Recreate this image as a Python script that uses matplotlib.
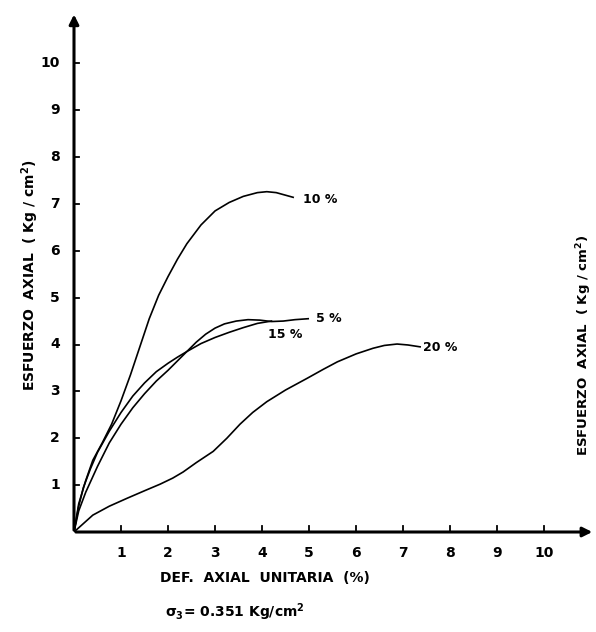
import numpy as np
import matplotlib.pyplot as plt

# curvas esfuerzo-deformacion
x_10 = [0, 0.1, 0.25, 0.4, 0.6, 0.8, 1.0, 1.2, 1.4, 1.6, 1.8, 2.0, 2.2, 2.4, 2.7, 3.0,
        3.3, 3.6, 3.9, 4.1, 4.3, 4.66]
y_10 = [0, 0.6, 1.1, 1.53, 1.9, 2.3, 2.8, 3.35, 3.95, 4.55, 5.05, 5.45, 5.82, 6.15, 6.55, 6.85,
        7.03, 7.16, 7.24, 7.26, 7.24, 7.14]

x_15 = [0, 0.1, 0.2, 0.35, 0.5, 0.75, 1.0, 1.25, 1.5, 1.75, 2.0, 2.2, 2.4, 2.7, 3.0,
        3.3, 3.6, 3.9, 4.2]
y_15 = [0, 0.55, 0.95, 1.35, 1.7, 2.15, 2.55, 2.9, 3.18, 3.42, 3.6, 3.73, 3.85, 4.02, 4.15,
        4.26, 4.36, 4.45, 4.5]

x_5 = [0, 0.1, 0.25, 0.5, 0.75, 1.0, 1.25, 1.5, 1.75, 2.0, 2.2, 2.4, 2.6, 2.8, 3.0, 3.2,
       3.45, 3.7, 3.95, 4.2, 4.45, 4.7, 4.98]
y_5 = [0, 0.45, 0.85, 1.4, 1.9, 2.3, 2.65, 2.95, 3.22, 3.45, 3.65, 3.85, 4.05, 4.22, 4.35, 4.44,
       4.5, 4.53, 4.52, 4.49, 4.5, 4.53, 4.55]

x_20 = [0, 0.4, 0.75, 1.13, 1.5, 1.83, 2.1, 2.32, 2.6, 2.96, 3.25, 3.53, 3.8, 4.1, 4.5,
        4.96, 5.3, 5.6, 6.0, 6.36, 6.6, 6.87, 7.1, 7.36]
y_20 = [0, 0.36, 0.55, 0.72, 0.88, 1.02, 1.15, 1.28, 1.48, 1.72, 2.0, 2.3, 2.55, 2.78, 3.03,
        3.28, 3.47, 3.63, 3.8, 3.92, 3.98, 4.01, 3.99, 3.95]

curve_labels = ["10 %", "15 %", "5 %", "20 %"]
label_pos = [(4.87, 7.1), (4.13, 4.22), (5.15, 4.56), (7.43, 3.93)]

ticks = list(range(1, 11))

fig = plt.figure(figsize=(5.96, 6.32), dpi=100)
ax = fig.add_axes([74 / 596, 100 / 632, 522 / 596, 525 / 632])
ax.set_xlim(0, 11.1)
ax.set_ylim(0, 11.2)
ax.axis("off")

# ejes con flecha
ax.annotate("", xy=(0, 11.1), xytext=(0, -0.02),
            arrowprops=dict(arrowstyle="-|>", color="black", lw=2.2, mutation_scale=14))
ax.annotate("", xy=(11.08, 0), xytext=(-0.02, 0),
            arrowprops=dict(arrowstyle="-|>", color="black", lw=2.2, mutation_scale=14))

# marcas en cruz
for t in ticks:
    ax.plot([t, t], [-0.12, 0.12], color="black", lw=1.3)
    ax.plot([-0.1, 0.1], [t, t], color="black", lw=1.3)
    ax.text(t, -0.3, str(t), ha="center", va="top", fontsize=10, fontweight="bold")
    ax.text(-0.3, t, str(t), ha="right", va="center", fontsize=10, fontweight="bold")

for xs, ys in [(x_10, y_10), (x_15, y_15), (x_5, y_5), (x_20, y_20)]:
    ax.plot(xs, ys, color="black", lw=1.2)

for lab, (lx, ly) in zip(curve_labels, label_pos):
    ax.text(lx, ly, lab, ha="left", va="center", fontsize=9, fontweight="bold")

fig.text(30 / 596, 1 - 275 / 632, "ESFUERZO  AXIAL  ( Kg / cm$^{\\mathbf{2}}$)", rotation=90,
         ha="center", va="center", fontsize=10, fontweight="bold")
fig.text(584 / 596, 1 - 345 / 632, "ESFUERZO  AXIAL  ( Kg / cm$^{\\mathbf{2}}$)", rotation=90,
         ha="center", va="center", fontsize=9.5, fontweight="bold")

fig.text(265 / 596, 1 - 578 / 632, "DEF.  AXIAL  UNITARIA  (%)", ha="center", va="center",
         fontsize=10, fontweight="bold")
fig.text(235 / 596, 1 - 612 / 632, "$\\mathbf{\\sigma_3}$= 0.351 Kg/cm$^{\\mathbf{2}}$", ha="center",
         va="center", fontsize=10, fontweight="bold")

fig.savefig("out.png", dpi=100)
